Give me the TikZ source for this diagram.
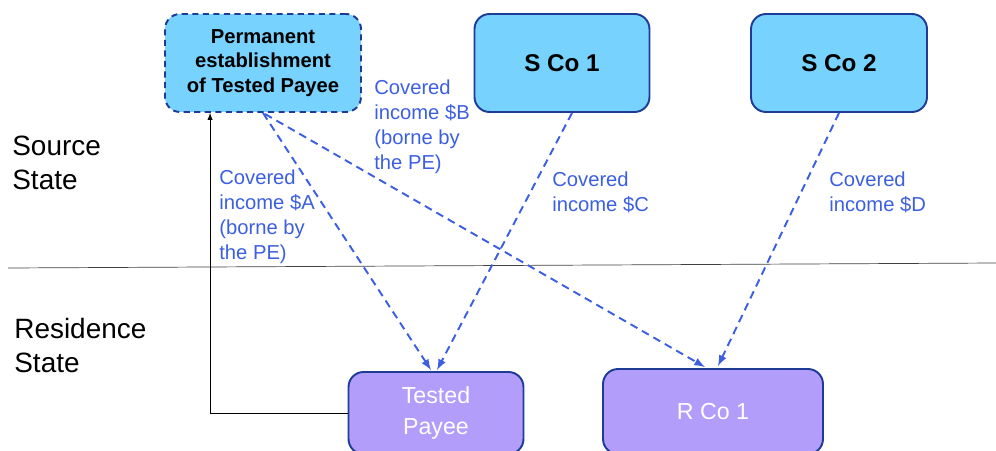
\documentclass[tikz,border=0pt]{standalone}
\usepackage{fontspec}
\setmainfont{Liberation Sans}
\usepackage{tikz}
\usetikzlibrary{calc,positioning,arrows}
\definecolor{colorsrc}{HTML}{77D2FE}
\definecolor{colorres}{HTML}{B39DFB}
\definecolor{colorrim}{HTML}{1E3C96}
\definecolor{colorinc}{HTML}{3C5FE0}
\tikzset{
  srcbox/.style={draw=colorrim, fill=colorsrc, line width=1.1pt, rounded corners=3mm, align=center, font=\fontsize{13.8}{16}\selectfont\bfseries},
  pebox/.style={srcbox, dash pattern=on 3.5pt off 2.5pt, font=\fontsize{11.5}{14}\selectfont\bfseries},
  resbox/.style={draw=colorrim, fill=colorres, line width=1.1pt, rounded corners=3mm, align=center, text=white, font=\fontsize{13.2}{17.5}\selectfont},
  edgeinc/.style={colorinc, line width=1.1pt, dash pattern=on 4.5pt off 3pt, -latex},
  edgepay/.style={black, -latex},
  lblinc/.style={colorinc, align=left, inner sep=0pt, anchor=north west, font=\fontsize{11.5}{14.2}\selectfont},
  lblstate/.style={align=left, inner sep=0pt, anchor=north west, font=\fontsize{15.9}{19.3}\selectfont}
}

\begin{document}
\begin{tikzpicture}[x=0.02cm, y=-0.02cm]
\useasboundingbox (0,0) rectangle (996,450);
\node[pebox, minimum width=3.92cm, minimum height=1.96cm] (pe) at (263,63) {Permanent\\establishment\\of Tested Payee};
\node[srcbox, minimum width=3.5cm, minimum height=1.96cm] (sco1) at (562,63) {S Co 1};
\node[srcbox, minimum width=3.52cm, minimum height=1.96cm] (sco2) at (839,63) {S Co 2};
\node[resbox, minimum width=3.5cm, minimum height=1.64cm] (tp) at (436,413) {Tested\\Payee};
\node[resbox, minimum width=4.4cm, minimum height=1.7cm] (rco1) at (713,411.5) {R Co 1};
% states
\node[lblstate] (src) at (12,136) {Source\\State};
\node[lblstate] (res) at (14,318) {Residence\\State};
\draw[black!75] (8,268) -- (996,263);
% income flows
\draw[edgeinc] (pe.south) -- ($(tp.north)+(-5,-1)$);
\draw[edgeinc] ($(pe.south)+(2,1)$) -- ($(rco1.north)+(-8,-1)$);
\draw[edgeinc] ($(sco1.south)+(10,0)$) -- ($(tp.north)+(1,-1)$);
\draw[edgeinc] (sco2.south) -- ($(rco1.north)+(5,-2)$);
\draw[edgepay] (tp.west) -| ($(pe.south west)+(46,0)$);
\node[lblinc] (inca) at (219,170) {Covered\\income \$A\\(borne by\\the PE)};
\node[lblinc] (incb) at (374,80) {Covered\\income \$B\\(borne by\\the PE)};
\node[lblinc] (incc) at (552,172) {Covered\\income \$C};
\node[lblinc] (incd) at (829,172) {Covered\\income \$D};
\end{tikzpicture}
\end{document}
